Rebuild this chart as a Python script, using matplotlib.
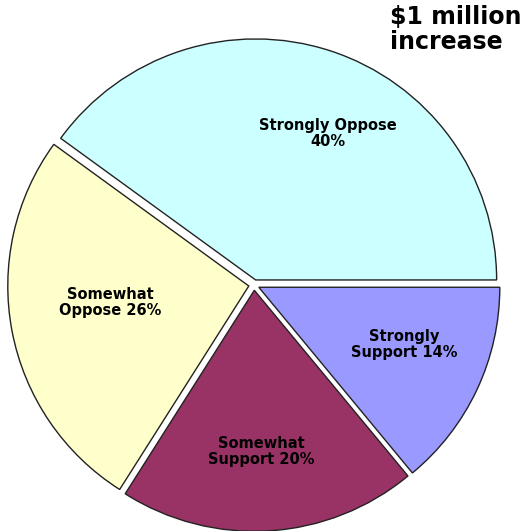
import matplotlib
matplotlib.use("Agg")
import matplotlib.pyplot as plt
import numpy as np

# survey responses for the $1 million increase
categories = ["Strongly Oppose", "Somewhat Oppose", "Somewhat Support", "Strongly Support"]
label_lines = ["Strongly Oppose\n{}%", "Somewhat\nOppose {}%", "Somewhat\nSupport {}%", "Strongly\nSupport {}%"]
values = [40, 26, 20, 14]
colors = ["#CCFFFF", "#FFFFCC", "#993366", "#9999FF"]

# label placement: distance from centre and angle nudge (deg) off the wedge middle
label_r = [0.70, 0.60, 0.69, 0.67]
label_nudge = [-8, -4, -1, 3.5]

fig = plt.figure(figsize=(5.25, 5.31), dpi=100)
ax = fig.add_axes([0, 0, 1, 1])

wedges, _ = ax.pie(values, colors=colors, startangle=0, counterclock=True,
                   explode=[0.022] * len(values), radius=1.0,
                   wedgeprops=dict(edgecolor="#222222", linewidth=1.0))

# pie radius 1 -> 241 px, centre at (254, 285) px from top-left
px = 241.0
cx, cy = 254.0, 285.0
ax.set_aspect("auto")
ax.set_xlim(-cx / px, (525 - cx) / px)
ax.set_ylim(-(531 - cy) / px, cy / px)
ax.axis("off")

cum = np.cumsum([0] + values)
for i, (txt, v) in enumerate(zip(label_lines, values)):
    mid = np.deg2rad((cum[i] + cum[i + 1]) / 2 * 3.6 + label_nudge[i])
    r = label_r[i]
    ax.text(r * np.cos(mid), r * np.sin(mid), txt.format(v),
            ha="center", va="center", fontsize=10.5, fontweight="bold",
            color="black", linespacing=1.1)

fig.text(390 / 525, 1 - 5 / 531, "\\$1 million\nincrease", ha="left", va="top",
         fontsize=17, fontweight="bold", linespacing=1.05)

fig.savefig("out.png", dpi=100)
